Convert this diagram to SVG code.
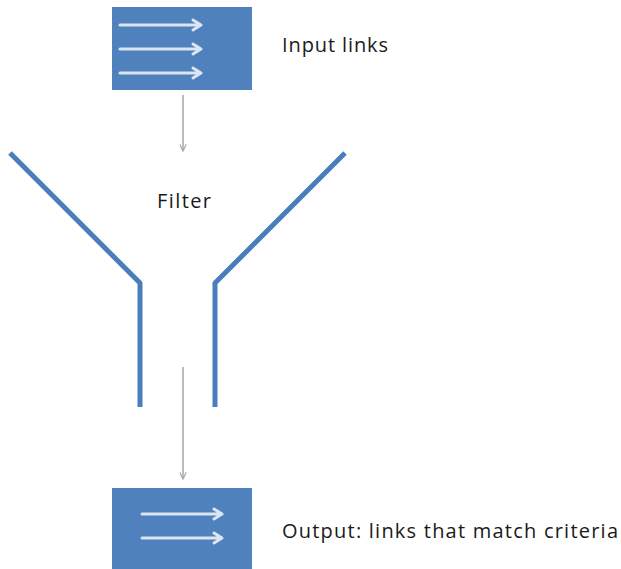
<svg xmlns="http://www.w3.org/2000/svg" width="621" height="569" viewBox="0 0 621 569">
<style>
.box{fill:#4f81bd}
.inarrow{stroke:#dce6f2;stroke-width:3;fill:none;stroke-linecap:round;stroke-linejoin:round}
.conn{stroke:#a6a6a6;stroke-width:1.5;fill:none}
.funnel{stroke:#4a7ebb;stroke-width:5;fill:none;stroke-linejoin:round}
text{font-family:"Open Sans","Liberation Sans",sans-serif;fill:#1a1a1a;font-size:20px}
</style>
<defs>
<marker id="ah" viewBox="0 0 10 10" refX="9" refY="5" markerWidth="8" markerHeight="8" markerUnits="userSpaceOnUse" orient="auto">
<path d="M1,1 L9,5 L1,9" fill="none" stroke="#a6a6a6" stroke-width="1.5"/>
</marker>
</defs>
<rect width="621" height="569" fill="#ffffff"/>
<g id="input">
<rect class="box" x="112" y="7" width="140" height="83"/>
<path class="inarrow" d="M120,25 H201 M193,20 L201,25 L193,30"/>
<path class="inarrow" d="M120,49 H201 M193,44 L201,49 L193,54"/>
<path class="inarrow" d="M120,73 H201 M193,68 L201,73 L193,78"/>
<text x="282" y="52" textLength="106" lengthAdjust="spacing">Input links</text>
</g>
<g id="filter">
<path class="funnel" d="M10,153 L140,283 L140,407"/>
<path class="funnel" d="M345,153 L215,283 L215,407"/>
<text x="157" y="208" textLength="54" lengthAdjust="spacing">Filter</text>
</g>
<g id="output">
<rect class="box" x="112" y="488" width="140" height="90"/>
<path class="inarrow" d="M142,514 H222 M214,509 L222,514 L214,519"/>
<path class="inarrow" d="M142,538 H222 M214,533 L222,538 L214,543"/>
<text x="282" y="538" textLength="336" lengthAdjust="spacing">Output: links that match criteria</text>
</g>
<g id="connectors">
<line class="conn" x1="183" y1="95" x2="183" y2="151" marker-end="url(#ah)"/>
<line class="conn" x1="183" y1="367" x2="183" y2="479" marker-end="url(#ah)"/>
</g>
</svg>
